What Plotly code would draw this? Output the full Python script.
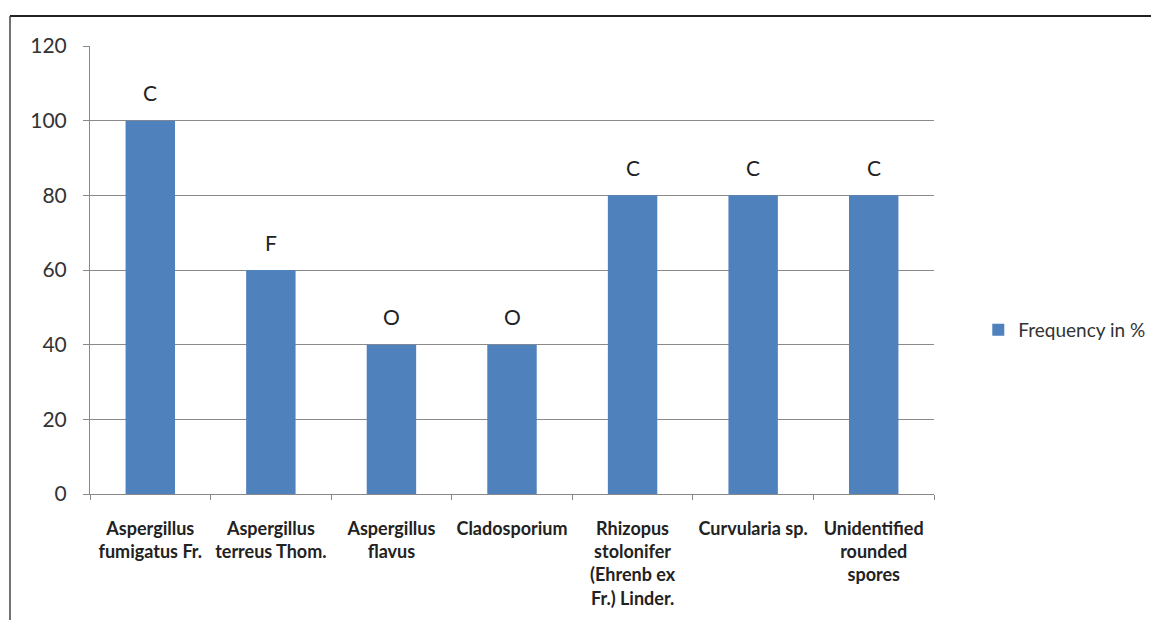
import plotly.graph_objects as go

categories = [
    "Aspergillus<br>fumigatus Fr.",
    "Aspergillus<br>terreus Thom.",
    "Aspergillus<br>flavus",
    "Cladosporium",
    "Rhizopus<br>stolonifer<br>(Ehrenb ex<br>Fr.) Linder.",
    "Curvularia sp.",
    "Unidentified<br>rounded<br>spores",
]
frequency = [100, 60, 40, 40, 80, 80, 80]
labels = ["C", "F", "O", "O", "C", "C", "C"]
y_ticks = [0, 20, 40, 60, 80, 100, 120]

fig = go.Figure()
fig.add_trace(go.Bar(
    x=categories, y=frequency, name="Frequency in %",
    marker=dict(color="#4F81BD", line=dict(width=0)),
))

for c, v, t in zip(categories, frequency, labels):
    fig.add_annotation(x=c, y=v, text=t, showarrow=False, yshift=28,
                       font=dict(family="Lato", size=21, color="#222"))

# page body has an 8px margin; figure sized to fit the window
W, H = 1151, 612
L, R, T, B = 82, 225, 38, 126
pw, ph = W - L - R, H - T - B

fig.update_layout(
    width=W, height=H,
    margin=dict(l=L, r=R, t=T, b=B),
    paper_bgcolor="white", plot_bgcolor="white",
    bargap=0.59,
    showlegend=True,
    legend=dict(xref="container", yref="container", x=0.843, y=1 - 322 / H,
                yanchor="middle", xanchor="left",
                font=dict(family="Lato", size=19, color="#333")),
    xaxis=dict(
        type="category", showgrid=False, showline=True, linecolor="#888", linewidth=1,
        ticks="outside", tickson="boundaries", ticklen=5, tickcolor="#888",
        tickfont=dict(family="Lato", size=18, color="#222", weight="bold"),
        ticklabelstandoff=18, automargin=False,
    ),
    yaxis=dict(
        range=[0, 120], tickvals=y_ticks, showgrid=True, gridcolor="#8a8a8a", gridwidth=1,
        showline=True, linecolor="#888", linewidth=1, ticks="outside", ticklen=6,
        tickcolor="#888", tickfont=dict(family="Lato", size=21, color="#333"),
        ticklabelstandoff=12, zeroline=False, automargin=False,
    ),
    shapes=[
        dict(type="line", xref="paper", yref="paper",
             x0=(2 - L) / pw, x1=(W - L) / pw + 0.02, y0=(H - B - 8) / ph, y1=(H - B - 8) / ph,
             line=dict(color="#222", width=2)),
        dict(type="line", xref="paper", yref="paper",
             x0=(2 - L) / pw, x1=(2 - L) / pw, y0=(H - B - 8) / ph, y1=-(B + 5) / ph,
             line=dict(color="#444", width=1.5)),
    ],
)

fig.write_html("out.html")
